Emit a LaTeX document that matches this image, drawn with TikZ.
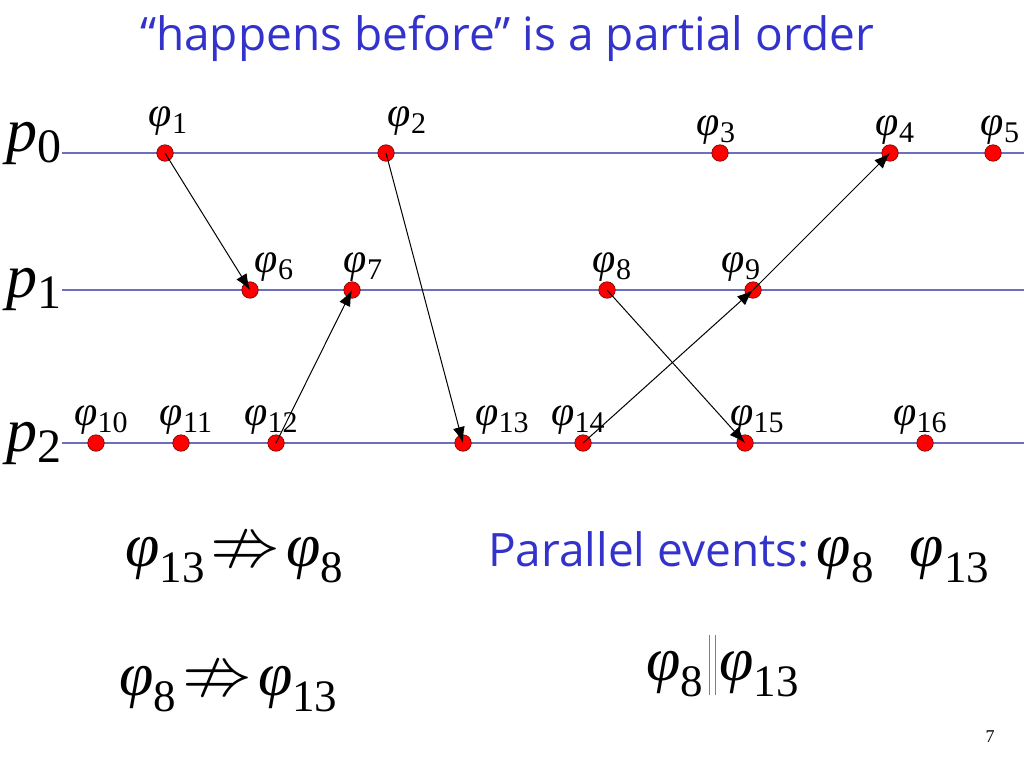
\documentclass[tikz,border=0pt]{standalone}
\usepackage{fontspec}
\usepackage{amssymb}
\setmainfont{Liberation Serif}
\newfontfamily\titlefont{Open Sans}
\usepackage{xcolor}
\usepackage{tikz}
\usetikzlibrary{positioning,arrows.meta}

\definecolor{titelblau}{RGB}{51,51,204}
\definecolor{linienblau}{RGB}{110,110,190}

% Ereignis-Beschriftungen
\newcommand{\ph}[1]{{\fontsize{42}{42}\selectfont\textit{φ}}\raisebox{-0.25em}{#1}}
\newcommand{\bph}[1]{{\fontsize{62}{62}\selectfont\textit{φ}}\raisebox{-16pt}{\fontsize{45}{45}\selectfont #1}}
\newcommand{\proc}[1]{{\fontsize{62}{62}\selectfont\textit{p}}\raisebox{-11pt}{\fontsize{48}{48}\selectfont #1}}

\begin{document}
\begin{tikzpicture}[x=1pt, y=-1pt, >={Latex[length=16pt,width=12pt]},
    event/.style={circle, fill=red, draw=red!45!black, line width=0.6pt, minimum size=16.5pt, inner sep=0pt, label distance=3pt},
    lab/.style={font=\fontsize{30}{30}\selectfont, inner sep=0pt},
    procline/.style={linienblau, line width=1.2pt},
    msg/.style={->, line width=1pt}]

    \useasboundingbox (0,0) rectangle (1024,768);

    % Titel
    \node (titel) at (507,50) [anchor=base, font=\titlefont\fontsize{46}{46}\selectfont, text=titelblau, inner sep=0pt] {“happens before” is a partial order};

    % Prozesse
    \node (p0) at (6,151) [anchor=base west, inner sep=0pt] {\proc{0}};
    \node (p1) at (6,297) [anchor=base west, inner sep=0pt] {\proc{1}};
    \node (p2) at (6,451) [anchor=base west, inner sep=0pt] {\proc{2}};
    \draw[procline] (62,153) -- (1024,153);
    \draw[procline] (62,290) -- (1024,290);
    \draw[procline] (62,443) -- (1024,443);

    % Ereignisse p0
    \node (e1) at (165,153) [event, label={[lab, xshift=3pt, yshift=9pt]above:\ph{1}}] {};
    \node (e2) at (386,153) [event, label={[lab, xshift=21pt, yshift=9pt]above:\ph{2}}] {};
    \node (e3) at (720,153) [event, label={[lab, xshift=-4pt]above:\ph{3}}] {};
    \node (e4) at (890,153) [event, label={[lab, xshift=5pt]above:\ph{4}}] {};
    \node (e5) at (993,153) [event, label={[lab, xshift=7pt]above:\ph{5}}] {};

    % Ereignisse p1
    \node (e6) at (250,290) [event, label={[lab, xshift=24pt]above:\ph{6}}] {};
    \node (e7) at (352,290) [event, label={[lab, xshift=11pt]above:\ph{7}}] {};
    \node (e8) at (607,290) [event, label={[lab, xshift=5pt]above:\ph{8}}] {};
    \node (e9) at (753,290) [event, label={[lab, xshift=-12pt]above:\ph{9}}] {};

    % Ereignisse p2
    \node (e10) at (96,443) [event, label={[lab, xshift=5pt]above:\ph{10}}] {};
    \node (e11) at (181,443) [event, label={[lab, xshift=5pt]above:\ph{11}}] {};
    \node (e12) at (276,443) [event, label={[lab, xshift=-5pt]above:\ph{12}}] {};
    \node (e13) at (463,443) [event, label={[lab, xshift=39pt]above:\ph{13}}] {};
    \node (e14) at (583,443) [event, label={[lab, xshift=-5pt]above:\ph{14}}] {};
    \node (e15) at (745,443) [event, label={[lab, xshift=12pt]above:\ph{15}}] {};
    \node (e16) at (925,443) [event, label={[lab, xshift=-5pt]above:\ph{16}}] {};

    % Nachrichten
    \draw[msg] (e1.center) -- (e6.center);
    \draw[msg] (e12.center) -- (e7.center);
    \draw[msg] (e2.center) -- (e13.center);
    \draw[msg] (e14.center) -- (e9.center);
    \draw[msg] (e9.center) -- (e4.center);
    \draw[msg] (e8.center) -- (e15.center);

    % Aussagen
    \node (nicht1) at (125,566) [anchor=base west, inner sep=0pt] {\bph{13}\hspace{6pt}{\fontsize{70}{70}\selectfont$\nRightarrow$}\hspace{6pt}\bph{8}};
    \node (nicht2) at (119,695) [anchor=base west, inner sep=0pt] {\bph{8}\hspace{6pt}{\fontsize{70}{70}\selectfont$\nRightarrow$}\hspace{6pt}\bph{13}};
    \node (parallel) at (488,566) [anchor=base west, inner sep=0pt] {{\titlefont\fontsize{46}{46}\selectfont\color{titelblau}Parallel events:}\hspace{7pt}\bph{8}\hspace{36pt}\bph{13}};
    \node (para) at (646,680) [anchor=base west, inner sep=0pt] {\bph{8}\hspace{6pt}{\color{gray}\rule[-15pt]{0.8pt}{60pt}\hspace{5pt}\rule[-15pt]{0.8pt}{60pt}}\hspace{4pt}\bph{13}};

    % Seitenzahl
    \node (seite) at (990,742) [anchor=base, font=\fontsize{18}{18}\selectfont, inner sep=0pt] {7};

\end{tikzpicture}
\end{document}
